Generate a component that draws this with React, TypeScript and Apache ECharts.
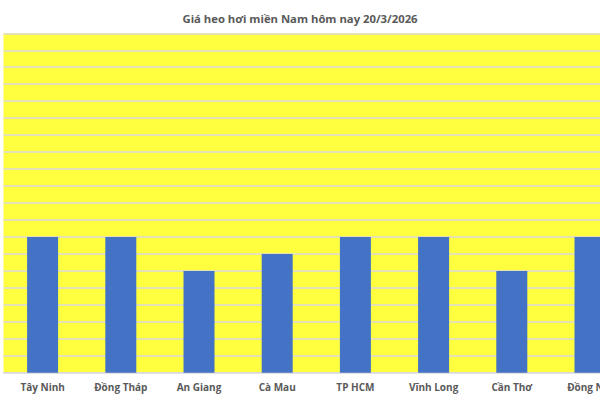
import React, { useEffect, useRef } from "react";
import * as echarts from "echarts";

const title = "Giá heo hơi miền Nam hôm nay 20/3/2026";
const provinces = ["Tây Ninh", "Đồng Tháp", "An Giang", "Cà Mau", "TP HCM", "Vĩnh Long", "Cần Thơ", "Đồng Nai"];
const prices = [62, 62, 60, 61, 62, 62, 60, 62];
const yMin = 54;
const yMax = 74;
const yInterval = 1;

export default function App() {
  const ref = useRef<HTMLDivElement>(null);
  useEffect(() => {
    if (!ref.current) return;
    const chart = echarts.init(ref.current, null, { renderer: "svg" });
    chart.setOption({
      animation: false,
      backgroundColor: "#ffffff",
      title: {
        text: title,
        left: "center",
        top: 8,
        textStyle: { fontFamily: "Open Sans", fontSize: 11.3, fontWeight: "bold", color: "#595959" },
      },
      grid: {
        left: 3.5,
        top: 33.3,
        right: -29.1,
        bottom: 27.3,
        outerBoundsMode: "none",
        containLabel: false,
        show: true,
        backgroundColor: "#ffff40",
        borderWidth: 0,
      },
      xAxis: {
        type: "category",
        data: provinces,
        axisLine: { show: true, lineStyle: { color: "#d9d9d9", width: 1 } },
        axisTick: { show: false },
        axisLabel: { interval: 0, margin: 9, fontFamily: "Open Sans", fontSize: 10, fontWeight: "bold", color: "#595959" },
      },
      yAxis: {
        type: "value",
        min: yMin,
        max: yMax,
        interval: yInterval,
        axisLabel: { show: false },
        axisLine: { show: false },
        axisTick: { show: false },
        splitLine: { show: true, lineStyle: { color: "#d9d9d9", width: 1.5 } },
      },
      series: [
        {
          type: "bar",
          data: prices,
          barWidth: 31,
          itemStyle: { color: "#4472c4" },
        },
      ],
    });
    return () => chart.dispose();
  }, []);
  return <div ref={ref} style={{ width: 600, height: 400, position: "absolute", left: 0, top: 0 }} />;
}
